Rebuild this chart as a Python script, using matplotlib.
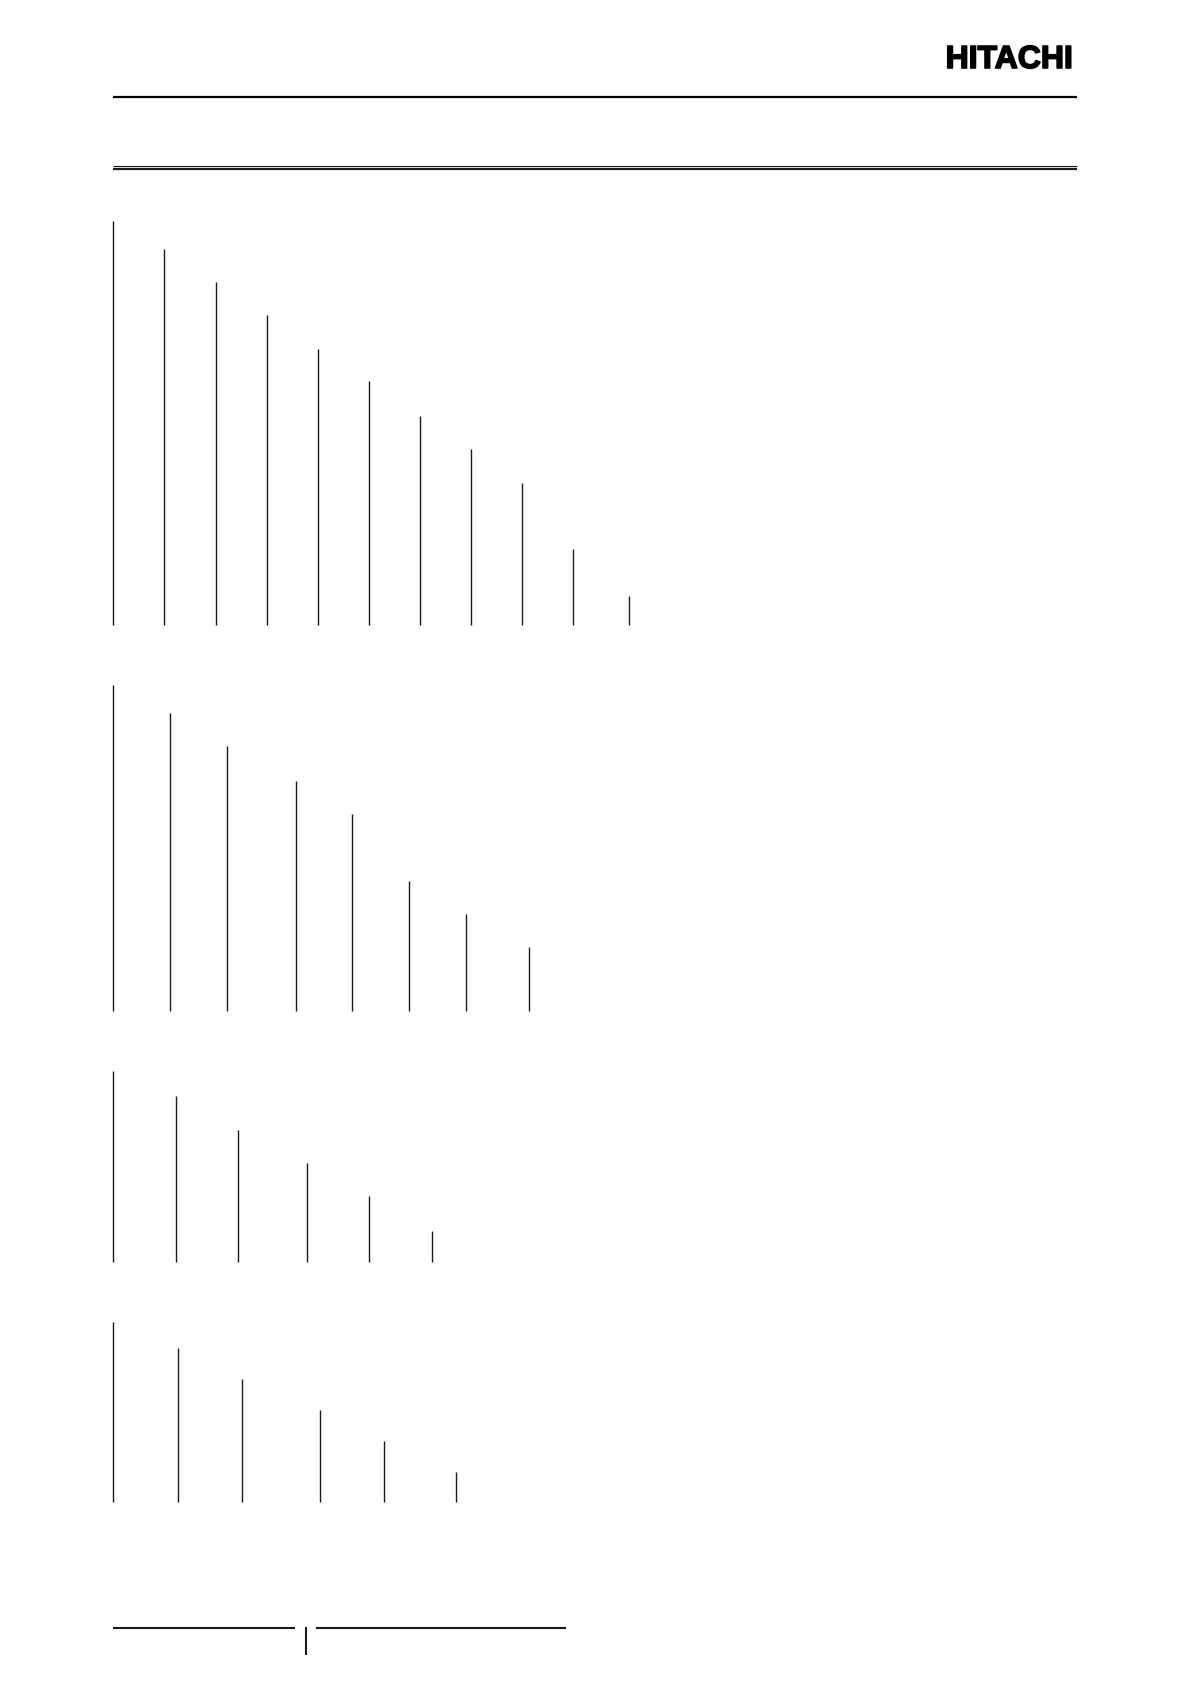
import matplotlib
matplotlib.use("Agg")
import matplotlib.pyplot as plt
import matplotlib.patheffects as pe

# Page size in pixels (figure drawn in pixel coordinates, y down)
PAGE_W, PAGE_H = 1191, 1684

# Tree groups: x position of each branch, top of each branch, shared baseline
GROUP1_X = [113, 164, 216, 267, 318, 369, 420, 471, 522, 573, 629]
GROUP1_TOP = [221, 249, 282, 315, 349, 381, 416, 449, 483, 549, 596]
GROUP1_BASE = 625

GROUP2_X = [113, 170, 227, 296, 352, 409, 466, 529]
GROUP2_TOP = [685, 713, 746, 781, 814, 881, 914, 947]
GROUP2_BASE = 1011

GROUP3_X = [113, 176, 238, 307, 369, 432]
GROUP3_TOP = [1071, 1096, 1130, 1163, 1196, 1231]
GROUP3_BASE = 1262

GROUP4_X = [113, 178, 242, 320, 384, 456]
GROUP4_TOP = [1322, 1348, 1379, 1410, 1441, 1472]
GROUP4_BASE = 1502

GROUPS = [
    (GROUP1_X, GROUP1_TOP, GROUP1_BASE),
    (GROUP2_X, GROUP2_TOP, GROUP2_BASE),
    (GROUP3_X, GROUP3_TOP, GROUP3_BASE),
    (GROUP4_X, GROUP4_TOP, GROUP4_BASE),
]

INK = "#1a1a1a"

fig = plt.figure(figsize=(PAGE_W / 100, PAGE_H / 100), dpi=100)
ax = fig.add_axes([0, 0, 1, 1])
ax.set_xlim(0, PAGE_W)
ax.set_ylim(PAGE_H, 0)
ax.axis("off")

# header
ax.text(1073, 68, "HITACHI", ha="right", va="baseline", fontsize=23,
        fontweight="bold", family="Liberation Sans", color="black",
        path_effects=[pe.withStroke(linewidth=1.2, foreground="black")])
ax.hlines(97, 113, 1077, color="black", linewidth=1.6)
ax.hlines(166, 113, 1077, color=INK, linewidth=0.8)
ax.hlines(168.8, 113, 1077, color=INK, linewidth=1.6)

# branch lines
for xs, tops, base in GROUPS:
    ax.vlines(xs, tops, base, color=INK, linewidth=1.0)

# footer
ax.hlines(1628, 113, 295, color=INK, linewidth=1.5)
ax.vlines(306, 1627, 1655, color=INK, linewidth=1.5)
ax.hlines(1628, 316, 566, color=INK, linewidth=1.5)

fig.savefig("out.png", dpi=100, facecolor="white")
plt.close(fig)
